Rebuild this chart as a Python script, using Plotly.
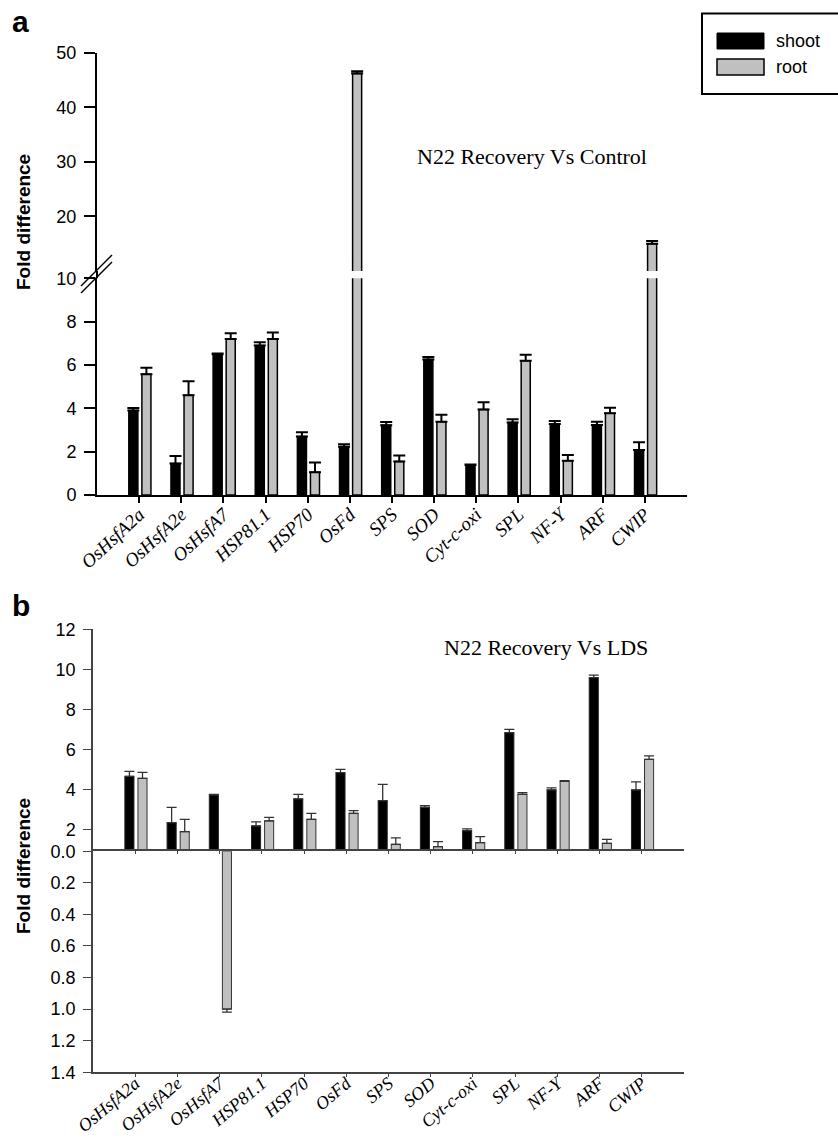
import plotly.graph_objects as go

W, H = 838, 1142

genes = ["OsHsfA2a", "OsHsfA2e", "OsHsfA7", "HSP81.1", "HSP70", "OsFd", "SPS",
         "SOD", "Cyt-c-oxi", "SPL", "NF-Y", "ARF", "CWIP"]

# Panel a: N22 Recovery Vs Control
a_shoot = [3.9, 1.45, 6.5, 6.9, 2.7, 2.23, 3.22, 6.25, 1.38, 3.35, 3.28, 3.23, 2.08]
a_shoot_err = [0.12, 0.35, 0.03, 0.15, 0.2, 0.11, 0.15, 0.12, 0.03, 0.15, 0.13, 0.15, 0.35]
a_root = [5.57, 4.6, 7.2, 7.2, 1.05, 46.2, 1.55, 3.38, 3.95, 6.2, 1.58, 3.77, 15.0]
a_root_err = [0.3, 0.65, 0.26, 0.3, 0.45, 0.4, 0.27, 0.32, 0.33, 0.27, 0.27, 0.26, 0.5]

# Panel b: N22 Recovery Vs LDS (negative = down-regulated, drawn on lower inverted scale)
b_shoot = [4.65, 2.33, 3.72, 2.17, 3.52, 4.83, 3.43, 3.1, 1.93, 6.83, 3.97, 9.58, 3.97]
b_shoot_err = [0.25, 0.77, 0.03, 0.2, 0.23, 0.17, 0.82, 0.08, 0.09, 0.17, 0.1, 0.13, 0.4]
b_root = [4.55, 1.88, -1.0, 2.42, 2.5, 2.8, 1.25, 1.13, 1.33, 3.75, 4.4, 1.3, 5.5]
b_root_err = [0.3, 0.62, 0.02, 0.18, 0.3, 0.13, 0.32, 0.25, 0.3, 0.08, 0.03, 0.2, 0.17]

a_low_ticks = [0, 2, 4, 6, 8, 10]
a_up_ticks = [20, 30, 40, 50]
b_pos_ticks = [2, 4, 6, 8, 10, 12]
b_neg_ticks = [0.0, 0.2, 0.4, 0.6, 0.8, 1.0, 1.2, 1.4]
b_neg_labels = ["0.0", "0.2", "0.4", "0.6", "0.8", "1.0", "1.2", "1.4"]

series_names = ["shoot", "root"]
SHOOT_C = "#000000"
ROOT_C = "#c0c0c0"


def px(x):
    return x / W


def py(y):
    return 1 - y / H


def bar(y, err, color, offset, xa, ya, lw, lc, ec, eth, ew, name):
    return go.Bar(
        x=genes, y=y, xaxis=xa, yaxis=ya, name=name, showlegend=False,
        width=0.215, offset=offset,
        marker=dict(color=color, line=dict(color=lc, width=lw)),
        error_y=dict(type="data", array=err, arrayminus=[0] * len(err), symmetric=False,
                     color=ec, thickness=eth, width=ew),
    )


fig = go.Figure()
# panel a lower and upper (broken axis)
for xa, ya in [("x", "y"), ("x2", "y2")]:
    fig.add_trace(bar(a_shoot, a_shoot_err, SHOOT_C, -0.245, xa, ya, 1.5, "#000", "#000", 2, 6, series_names[0]))
    fig.add_trace(bar(a_root, a_root_err, ROOT_C, 0.065, xa, ya, 1.5, "#000", "#000", 2, 6, series_names[1]))

# panel b positive part and inverted negative part
b_root_pos = [v if v > 0 else None for v in b_root]
b_root_pos_err = [e if v > 0 else 0 for v, e in zip(b_root, b_root_err)]
b_root_neg = [-v if v < 0 else None for v in b_root]
b_root_neg_err = [e if v < 0 else 0 for v, e in zip(b_root, b_root_err)]
fig.add_trace(bar(b_shoot, b_shoot_err, SHOOT_C, -0.245, "x3", "y3", 1.0, "#222", "#333", 1.3, 5, series_names[0]))
fig.add_trace(bar(b_root_pos, b_root_pos_err, ROOT_C, 0.065, "x3", "y3", 1.0, "#333", "#333", 1.3, 5, series_names[1]))
fig.add_trace(bar(b_root_neg, b_root_neg_err, ROOT_C, 0.065, "x4", "y4", 1.0, "#333", "#333", 1.3, 5, series_names[1]))

xa_dom = [px(97), px(687)]
xb_dom = [px(93), px(684)]

sans = "Liberation Sans, Arial, sans-serif"
serif = "Liberation Serif, Times New Roman, serif"
xtickfont_a = dict(family=serif, size=19, color="black", style="italic")
xtickfont_b = dict(family=serif, size=18, color="black", style="italic")
ytickfont = dict(family=sans, size=18, color="black")

cat = dict(type="category", categoryorder="array", categoryarray=genes, range=[-1, 13],
           showgrid=False, zeroline=False, fixedrange=True, automargin=False)
ycommon = dict(showgrid=False, zeroline=False, ticks="outside", showline=True, tickfont=ytickfont,
               automargin=False, fixedrange=True)

fig.update_layout(
    width=W, height=H, autosize=False,
    margin=dict(l=0, r=0, t=0, b=0, pad=0),
    paper_bgcolor="white", plot_bgcolor="rgba(0,0,0,0)",
    barmode="overlay",
    xaxis=dict(**cat, domain=xa_dom, anchor="y", showline=True, linecolor="black", linewidth=2,
               ticks="outside", ticklen=6, tickwidth=2, tickcolor="black",
               tickangle=-43, tickfont=xtickfont_a, ticklabelstandoff=-7),
    yaxis=dict(**ycommon, domain=[py(495), py(278.3)], anchor="x", range=[0, 10],
               tickvals=a_low_ticks, linecolor="black", linewidth=2, ticklen=11, tickwidth=2,
               tickcolor="black", ticklabelstandoff=4),
    xaxis2=dict(**cat, domain=xa_dom, anchor="y2", visible=False),
    yaxis2=dict(**ycommon, domain=[py(271), py(52.7)], anchor="x2", range=[10, 50],
                tickvals=a_up_ticks, linecolor="black", linewidth=2, ticklen=11, tickwidth=2,
                tickcolor="black", ticklabelstandoff=4),
    xaxis3=dict(**cat, domain=xb_dom, anchor="y3", showline=True, linecolor="#444", linewidth=1.5,
                ticks="outside", ticklen=3, tickwidth=1, tickcolor="#444", showticklabels=False),
    yaxis3=dict(**ycommon, domain=[py(849.3), py(629.3)], anchor="x3", range=[1, 12],
                tickvals=b_pos_ticks, linecolor="#444", linewidth=1.5, ticklen=8, tickwidth=1.2,
                tickcolor="#444", ticklabelstandoff=4),
    xaxis4=dict(**cat, domain=xb_dom, anchor="y4", showline=True, linecolor="#444", linewidth=1.5,
                ticks="outside", ticklen=3, tickwidth=1, tickcolor="#444",
                tickangle=-40, tickfont=xtickfont_b, ticklabelstandoff=-11),
    yaxis4=dict(**ycommon, domain=[py(1072.2), py(851.2)], anchor="x4", range=[1.4, 0],
                tickvals=b_neg_ticks, ticktext=b_neg_labels, linecolor="#444", linewidth=1.5,
                ticklen=8, tickwidth=1.2, tickcolor="#444", ticklabelstandoff=4),
)

shapes = []
# axis break: fill the gap and draw //
shapes.append(dict(type="line", xref="paper", yref="paper", x0=px(97), x1=px(97), y0=py(271), y1=py(278.3),
                   line=dict(color="black", width=2)))
for dy in (0, 7):
    shapes.append(dict(type="line", xref="paper", yref="paper", x0=px(81), y0=py(286 + dy),
                       x1=px(112), y1=py(255 + dy), line=dict(color="black", width=1.5)))
# legend box
shapes.append(dict(type="rect", xref="paper", yref="paper", x0=px(702), x1=px(845), y0=py(94), y1=py(13.5),
                   line=dict(color="black", width=2), fillcolor="rgba(0,0,0,0)"))
shapes.append(dict(type="rect", xref="paper", yref="paper", x0=px(717), x1=px(764), y0=py(49), y1=py(33),
                   line=dict(color="black", width=1), fillcolor=SHOOT_C))
shapes.append(dict(type="rect", xref="paper", yref="paper", x0=px(717), x1=px(764), y0=py(75), y1=py(59),
                   line=dict(color="black", width=1.5), fillcolor=ROOT_C))
fig.update_layout(shapes=shapes)

ann = []


def text(x, y, s, size, family=sans, xanchor="left", yanchor="middle", angle=0, weight="normal"):
    ann.append(dict(x=px(x), y=py(y), xref="paper", yref="paper", text=s, showarrow=False,
                    xanchor=xanchor, yanchor=yanchor, textangle=angle,
                    font=dict(family=family, size=size, color="black", weight=weight)))


text(10, 22, "a", 30, weight="bold")
text(10, 605, "b", 30, weight="bold")
text(23, 222, "Fold difference", 19, xanchor="center", angle=-90, weight="bold")
text(23, 866, "Fold difference", 19, xanchor="center", angle=-90, weight="bold")
text(415, 157, "N22 Recovery Vs Control", 22, family=serif)
text(442, 647, "N22 Recovery Vs LDS", 22, family=serif)
text(774, 41, series_names[0], 18)
text(774, 67, series_names[1], 18)
fig.update_layout(annotations=ann)

fig.write_html("out.html")
